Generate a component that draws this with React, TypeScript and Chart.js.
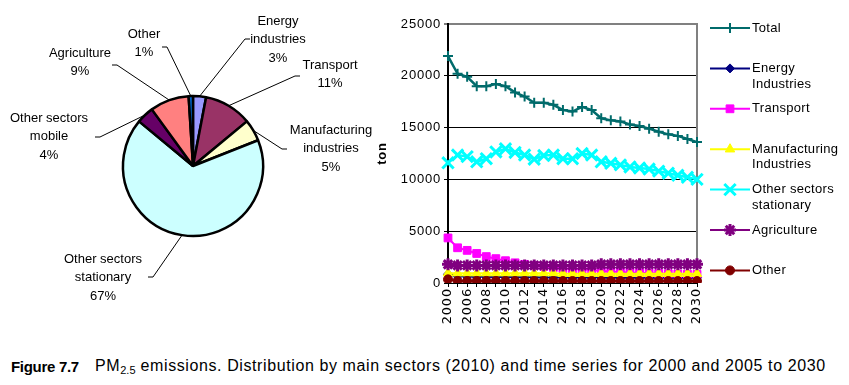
import React, { useEffect, useRef } from 'react';
import { Chart, registerables } from 'chart.js';
import { drawPoint } from 'chart.js/helpers';

Chart.register(...registerables);

// ---------------- data ----------------
const pieSectors = ['Energy industries', 'Transport', 'Manufacturing industries', 'Other sectors stationary', 'Other sectors mobile', 'Agriculture', 'Other'];
const pieLabelLines = [['Energy', 'industries'], ['Transport'], ['Manufacturing', 'industries'], ['Other sectors', 'stationary'], ['Other sectors', 'mobile'], ['Agriculture'], ['Other']];
const pieShares = [3, 11, 5, 67, 4, 9, 1];
const pieColors = ['#9999FF', '#993366', '#FFFFCC', '#CCFFFF', '#660066', '#FF8080', '#0066CC'];

const years = ['2000', '2005', '2006', '2007', '2008', '2009', '2010', '2011', '2012', '2013', '2014', '2015', '2016', '2017', '2018', '2019', '2020', '2021', '2022', '2023', '2024', '2025', '2026', '2027', '2028', '2029', '2030'];
const totalSeries = [21900, 20200, 19900, 19000, 19000, 19200, 19000, 18400, 18000, 17400, 17400, 17200, 16700, 16550, 17000, 16700, 15900, 15700, 15600, 15300, 15150, 14900, 14600, 14350, 14200, 13900, 13600];
const energySeries = [850, 650, 620, 600, 600, 580, 570, 560, 550, 550, 540, 540, 530, 530, 520, 520, 520, 510, 510, 510, 500, 500, 500, 500, 500, 500, 500];
const transportSeries = [4350, 3400, 3150, 2850, 2550, 2350, 2150, 1950, 1800, 1700, 1600, 1500, 1400, 1350, 1300, 1250, 1150, 1100, 1050, 1000, 980, 950, 920, 900, 880, 860, 840];
const manufacturingSeries = [950, 950, 950, 950, 950, 950, 950, 950, 950, 950, 950, 950, 900, 900, 900, 900, 900, 900, 900, 900, 900, 900, 900, 900, 900, 900, 900];
const stationarySeries = [11600, 12350, 12200, 11700, 12000, 12650, 12950, 12600, 12350, 11950, 12300, 12350, 12000, 12000, 12500, 12350, 11700, 11550, 11400, 11200, 11100, 11000, 10800, 10600, 10400, 10200, 10000];
const agricultureSeries = [1800, 1700, 1700, 1700, 1700, 1700, 1700, 1700, 1700, 1700, 1700, 1700, 1700, 1700, 1700, 1700, 1800, 1800, 1800, 1800, 1800, 1800, 1800, 1800, 1800, 1800, 1800];
const otherSeries = [350, 200, 200, 200, 200, 200, 190, 190, 190, 190, 190, 190, 190, 190, 190, 190, 190, 190, 190, 190, 190, 190, 190, 190, 190, 190, 190];
const yMax = 25000;
const yStep = 5000;

const legendLines = [['Total'], ['Energy', 'Industries'], ['Transport'], ['Manufacturing', 'Industries'], ['Other sectors', 'stationary'], ['Agriculture'], ['Other']];

const captionBold = 'Figure 7.7';
const captionText = ' emissions. Distribution by main sectors (2010) and time series for 2000 and 2005 to 2030';

// ---------------- layout / style ----------------
const FONT = '"Liberation Sans", Arial, Helvetica, sans-serif';

// label placement relative to pie centre: text (first line centre), elbow point, tick end x
const pieLabelLayout = [
  { tx: 85, ty: -145, ex: 52, ey: -127, kx: 57 },
  { tx: 137, ty: -101, ex: 102, ey: -90, kx: 107 },
  { tx: 138, ty: -36, ex: 89, ey: -17, kx: 94 },
  { tx: -90, ty: 93, ex: -40, ey: 111, kx: -45 },
  { tx: -144, ty: -48, ex: -93, ey: -29, kx: -98 },
  { tx: -113, ty: -113, ex: -76, ey: -101, kx: -81 },
  { tx: -49, ty: -132, ex: -26, ey: -119, kx: -31 },
];

const pieLabelsPlugin = {
  id: 'pieLabels',
  afterDraw(chart: any) {
    const { ctx } = chart;
    const meta = chart.getDatasetMeta(0);
    ctx.save();
    ctx.font = `13px ${FONT}`;
    ctx.textAlign = 'center';
    ctx.textBaseline = 'middle';
    ctx.fillStyle = '#000';
    ctx.strokeStyle = '#000';
    ctx.lineWidth = 1;
    meta.data.forEach((arc: any, i: number) => {
      const { x, y, startAngle, endAngle, outerRadius } = arc.getProps(['x', 'y', 'startAngle', 'endAngle', 'outerRadius'], true);
      const mid = (startAngle + endAngle) / 2;
      const sx = x + Math.cos(mid) * outerRadius;
      const sy = y + Math.sin(mid) * outerRadius;
      const L = pieLabelLayout[i];
      ctx.beginPath();
      ctx.moveTo(sx, sy);
      ctx.lineTo(x + L.ex, y + L.ey);
      ctx.lineTo(x + L.kx, y + L.ey);
      ctx.stroke();
      const lines = [...pieLabelLines[i], `${pieShares[i]}%`];
      lines.forEach((t, j) => ctx.fillText(t, x + L.tx, y + L.ty + j * 18.7));
    });
    ctx.restore();
  },
};

const spacingPlugin = {
  id: 'spacing',
  beforeLayout(chart: any) { chart.ctx.letterSpacing = '0.8px'; },
  beforeDraw(chart: any) { chart.ctx.letterSpacing = '0.8px'; },
};

const frameRightPlugin = {
  id: 'frameRight',
  beforeDatasetsDraw(chart: any) {
    const { ctx, chartArea } = chart;
    ctx.save();
    ctx.strokeStyle = '#808080';
    ctx.lineWidth = 2;
    ctx.beginPath();
    ctx.moveTo(chartArea.right, chartArea.top - 1);
    ctx.lineTo(chartArea.right, chartArea.bottom);
    ctx.stroke();
    ctx.restore();
  },
};

const LEG_TOP = 28;
const LEG_GAP = 40.4;
const LEG_X0 = 335;
const LEG_X1 = 375;
const LEG_TX = 377;

const customLegendPlugin = {
  id: 'customLegend',
  afterDraw(chart: any) {
    const { ctx } = chart;
    ctx.save();
    ctx.letterSpacing = '0.3px';
    chart.data.datasets.forEach((ds: any, i: number) => {
      const y = LEG_TOP + i * LEG_GAP;
      ctx.strokeStyle = ds.borderColor;
      ctx.lineWidth = 2;
      ctx.beginPath();
      ctx.moveTo(LEG_X0, y);
      ctx.lineTo(LEG_X1, y);
      ctx.stroke();
      ctx.fillStyle = ds.pointBackgroundColor;
      ctx.strokeStyle = ds.pointBorderColor;
      ctx.lineWidth = ds.pointBorderWidth;
      drawPoint(ctx, { pointStyle: ds.pointStyle, radius: ds.pointRadius, borderWidth: ds.pointBorderWidth, rotation: 0 }, (LEG_X0 + LEG_X1) / 2, y);
      ctx.fillStyle = '#000';
      ctx.font = `13px ${FONT}`;
      ctx.textAlign = 'left';
      ctx.textBaseline = 'middle';
      legendLines[i].forEach((t, j) => ctx.fillText(t, LEG_TX, y + j * 15.7));
    });
    ctx.restore();
  },
};

function mk(label: string, data: number[], color: string, style: string, radius: number, bw: number, lw: number, order: number) {
  return {
    label, data, borderColor: color, backgroundColor: color,
    pointBackgroundColor: color, pointBorderColor: color,
    pointStyle: style, pointRadius: radius, pointBorderWidth: bw,
    borderWidth: lw, tension: 0, order,
  };
}

export default function App() {
  const pieRef = useRef<HTMLCanvasElement>(null);
  const lineRef = useRef<HTMLCanvasElement>(null);

  useEffect(() => {
    const pie = new Chart(pieRef.current as HTMLCanvasElement, {
      type: 'pie',
      data: {
        labels: pieSectors,
        datasets: [{ data: pieShares, backgroundColor: pieColors, borderColor: '#000', borderWidth: 2.5 }],
      },
      options: {
        animation: false,
        responsive: false,
        events: [],
        layout: { padding: { left: 121.75, right: 125.75, top: 94.75, bottom: 102.75 } },
        plugins: { legend: { display: false }, tooltip: { enabled: false } },
      },
      plugins: [pieLabelsPlugin],
    } as any);

    const line = new Chart(lineRef.current as HTMLCanvasElement, {
      type: 'line',
      data: {
        labels: years,
        datasets: [
          mk('Total', totalSeries, '#006B6B', 'cross', 5, 2, 2.5, 6),
          mk('Energy Industries', energySeries, '#000080', 'rectRot', 4.5, 1, 2, 5),
          mk('Transport', transportSeries, '#FF00FF', 'rect', 5.5, 1, 2, 4),
          mk('Manufacturing Industries', manufacturingSeries, '#FFFF00', 'triangle', 5.5, 1, 2, 3),
          mk('Other sectors stationary', stationarySeries, '#00FFFF', 'crossRot', 8, 3, 2.5, 2),
          mk('Agriculture', agricultureSeries, '#800080', 'star', 6, 3, 2, 1),
          mk('Other', otherSeries, '#800000', 'circle', 4.5, 1, 2, 0),
        ],
      },
      options: {
        animation: false,
        responsive: false,
        events: [],
        layout: { padding: { top: 24, right: 152, left: 0, bottom: 0 } },
        plugins: { legend: { display: false }, tooltip: { enabled: false } },
        scales: {
          x: {
            type: 'category',
            offset: false,
            grid: { display: true, drawOnChartArea: false, drawTicks: true, tickLength: 4, color: '#000' },
            border: { display: true, color: '#000', width: 1 },
            ticks: {
              autoSkip: false, minRotation: 90, maxRotation: 90, padding: 1, color: '#000',
              font: { family: '"DejaVu Sans", Verdana, sans-serif', size: 13 },
              callback: (_v: any, i: number) => (i % 2 === 0 ? years[i] : ''),
            },
            afterFit: (s: any) => { s.height = 62; },
          },
          y: {
            min: 0, max: yMax,
            ticks: { stepSize: yStep, color: '#000', padding: 3, font: { family: FONT, size: 13 }, callback: (v: any) => String(v) },
            grid: {
              color: (c: any) => (c.tick && c.tick.value === yMax ? '#808080' : '#000'),
              lineWidth: (c: any) => (c.tick && c.tick.value === yMax ? 2 : 1),
              tickLength: 4, tickColor: '#000', tickWidth: 1,
            },
            border: { color: '#000', width: 2 },
            title: { display: true, text: 'ton', color: '#000', padding: 0, font: { family: FONT, size: 13, weight: 'bold' } },
            afterFit: (s: any) => { s.width = 73; },
          },
        },
      },
      plugins: [spacingPlugin, frameRightPlugin, customLegendPlugin],
    } as any);

    return () => { pie.destroy(); line.destroy(); };
  }, []);

  return (
    <div style={{ position: 'absolute', left: 0, top: 0, width: 849, height: 385, background: '#fff', overflow: 'hidden' }}>
      <canvas ref={pieRef} width={390} height={340} style={{ position: 'absolute', left: 0, top: 0, width: 390, height: 340 }} />
      <canvas ref={lineRef} width={474} height={345} style={{ position: 'absolute', left: 375, top: 0, width: 474, height: 345 }} />
      <div style={{ position: 'absolute', left: 11, top: 358, font: `bold 15px ${FONT}`, whiteSpace: 'nowrap', color: '#000', letterSpacing: '-0.3px' }}>{captionBold}</div>
      <div style={{ position: 'absolute', left: 95, top: 357, font: `16px ${FONT}`, letterSpacing: '0.6px', whiteSpace: 'nowrap', color: '#000' }}>
        PM<span style={{ fontSize: 11, position: 'relative', top: 3, letterSpacing: 0 }}>2.5</span>{captionText}
      </div>
    </div>
  );
}
